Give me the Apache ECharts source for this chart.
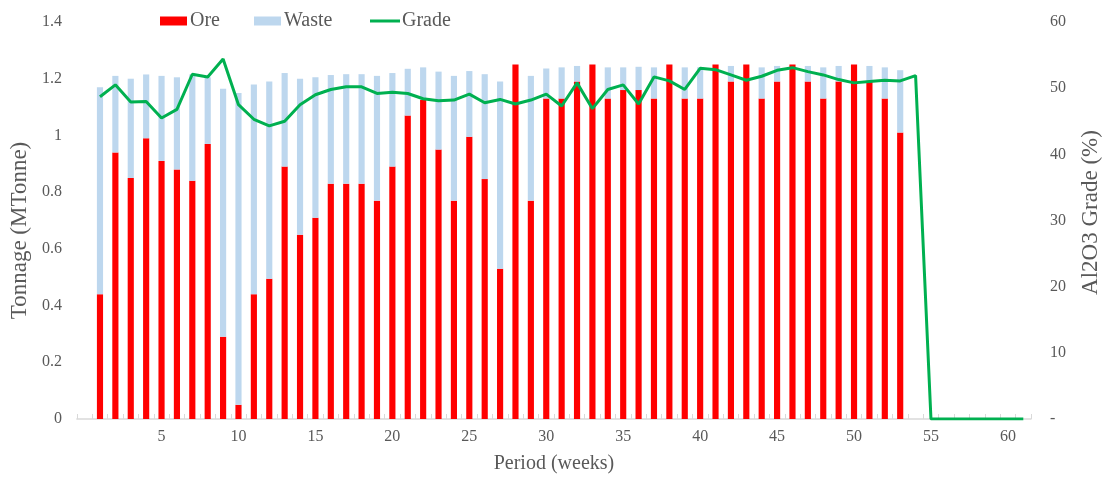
<!DOCTYPE html>
<html>
<head>
<meta charset="utf-8">
<script src="https://cdn.jsdelivr.net/npm/echarts@6/dist/echarts.min.js"></script>
<style>
html,body{margin:0;padding:0;background:#fff;overflow:hidden;width:100%;height:100%;}
#chart{width:100vw;height:100vh;}
</style>
</head>
<body>
<div id="chart"></div>
<script>
// Periods (first slot is an empty leading category, as in the original axis)
const categories = ['', '1','2','3','4','5','6','7','8','9','10','11','12','13','14','15','16','17','18','19','20',
  '21','22','23','24','25','26','27','28','29','30','31','32','33','34','35','36','37','38','39','40',
  '41','42','43','44','45','46','47','48','49','50','51','52','53','54','55','56','57','58','59','60','61'];

// Ore tonnage (MTonne), periods 1..53
const ore = [null,
  0.44, 0.94, 0.85, 0.99, 0.91, 0.88, 0.84, 0.97, 0.29, 0.05,
  0.44, 0.495, 0.89, 0.65, 0.71, 0.83, 0.83, 0.83, 0.77, 0.89,
  1.07, 1.125, 0.95, 0.77, 0.995, 0.846, 0.53, 1.25, 0.77, 1.13,
  1.13, 1.19, 1.25, 1.13, 1.16, 1.16, 1.13, 1.25, 1.13, 1.13,
  1.25, 1.19, 1.25, 1.13, 1.19, 1.25, 1.19, 1.13, 1.19, 1.25,
  1.19, 1.13, 1.01];

// Waste tonnage (MTonne), periods 1..53
const waste = [null,
  0.73, 0.27, 0.35, 0.225, 0.30, 0.325, 0.375, 0.235, 0.875, 1.10,
  0.74, 0.695, 0.33, 0.55, 0.495, 0.383, 0.386, 0.386, 0.44, 0.33,
  0.165, 0.115, 0.275, 0.44, 0.232, 0.37, 0.66, 0, 0.44, 0.106,
  0.11, 0.055, 0, 0.11, 0.08, 0.082, 0.11, 0, 0.11, 0.11,
  0, 0.055, 0, 0.11, 0.055, 0, 0.055, 0.11, 0.055, 0,
  0.055, 0.11, 0.22];

// Al2O3 grade (%), periods 1..61
const grade = [null,
  48.7, 50.5, 47.9, 48.0, 45.5, 46.8, 52.1, 51.7, 54.4, 47.5,
  45.3, 44.3, 45.0, 47.5, 49.0, 49.8, 50.2, 50.2, 49.2, 49.4,
  49.2, 48.4, 48.1, 48.2, 49.1, 47.8, 48.3, 47.6, 48.2, 49.1,
  47.3, 50.8, 46.9, 49.8, 50.5, 47.6, 51.7, 51.1, 49.8, 53.0,
  52.8, 52.0, 51.2, 51.8, 52.7, 53.1, 52.5, 52.0, 51.3, 50.8,
  51.0, 51.2, 51.1, 51.9, 0, 0, 0, 0, 0, 0, 0];

const leftTicks = { min: 0, max: 1.4, interval: 0.2 };
const rightTicks = { min: 0, max: 60, interval: 10 };

const FONT = '"Liberation Serif", "Times New Roman", serif';
const TXT = '#595959';

const el = document.getElementById('chart');
const chart = echarts.init(el, null, { renderer: 'canvas' });
chart.setOption({
  animation: false,
  backgroundColor: '#ffffff',
  textStyle: { fontFamily: FONT, color: TXT },
  legend: [
    {
      left: 155, top: 6,
      itemWidth: 27, itemHeight: 9, itemGap: 34,
      textStyle: { fontFamily: FONT, fontSize: 20, color: TXT, padding: [0, 0, 0, -2] },
      data: [
        { name: 'Ore', icon: 'rect' },
        { name: 'Waste', icon: 'rect' }
      ]
    },
    {
      left: 365, top: 6,
      itemWidth: 30, itemHeight: 3,
      textStyle: { fontFamily: FONT, fontSize: 20, color: TXT, padding: [0, 0, 0, -3] },
      data: [ { name: 'Grade', icon: 'rect' } ]
    }
  ],
  grid: { left: 69, right: 70.5, top: 22, bottom: 60, containLabel: false },
  xAxis: {
    type: 'category',
    data: categories,
    boundaryGap: true,
    name: 'Period (weeks)',
    nameLocation: 'middle',
    nameGap: 35,
    nameTextStyle: { fontFamily: FONT, fontSize: 20, color: TXT },
    axisLine: { show: true, lineStyle: { color: '#D9D9D9', width: 1.5 } },
    axisTick: { show: true, inside: true, length: 5, interval: 0, lineStyle: { color: '#D9D9D9' } },
    axisLabel: {
      interval: function (i) { return i > 0 && i % 5 === 0; },
      margin: 10,
      fontFamily: FONT, fontSize: 16, color: TXT
    },
    splitLine: { show: false }
  },
  yAxis: [
    {
      type: 'value',
      min: leftTicks.min, max: leftTicks.max, interval: leftTicks.interval,
      name: 'Tonnage (MTonne)',
      nameLocation: 'middle',
      nameGap: 40,
      nameTextStyle: { fontFamily: FONT, fontSize: 23, color: TXT, padding: [0, 20, 0, 0] },
      axisLine: { show: false },
      axisTick: { show: false },
      splitLine: { show: false },
      axisLabel: { margin: 15, fontFamily: FONT, fontSize: 16, color: TXT }
    },
    {
      type: 'value',
      min: rightTicks.min, max: rightTicks.max, interval: rightTicks.interval,
      position: 'right',
      name: 'Al2O3 Grade (%)',
      nameLocation: 'middle',
      nameGap: 48,
      nameRotate: 90,
      nameTextStyle: { fontFamily: FONT, fontSize: 23, color: TXT, padding: [0, 0, 0, 16] },
      axisLine: { show: false },
      axisTick: { show: false },
      splitLine: { show: false },
      axisLabel: {
        margin: 19, fontFamily: FONT, fontSize: 16, color: TXT,
        formatter: function (v) { return v === 0 ? '-' : String(v); }
      }
    }
  ],
  series: [
    {
      name: 'Ore', type: 'bar', stack: 'ton', yAxisIndex: 0,
      data: ore, barWidth: '40%',
      itemStyle: { color: '#FF0000' }
    },
    {
      name: 'Waste', type: 'bar', stack: 'ton', yAxisIndex: 0,
      data: waste, barWidth: '40%',
      itemStyle: { color: '#BDD7EE' }
    },
    {
      name: 'Grade', type: 'line', yAxisIndex: 1,
      data: grade, showSymbol: false, symbol: 'none',
      lineStyle: { color: '#00B050', width: 3 },
      itemStyle: { color: '#00B050' },
      z: 5
    }
  ]
});
window.addEventListener('resize', function () { chart.resize(); });
</script>
</body>
</html>
